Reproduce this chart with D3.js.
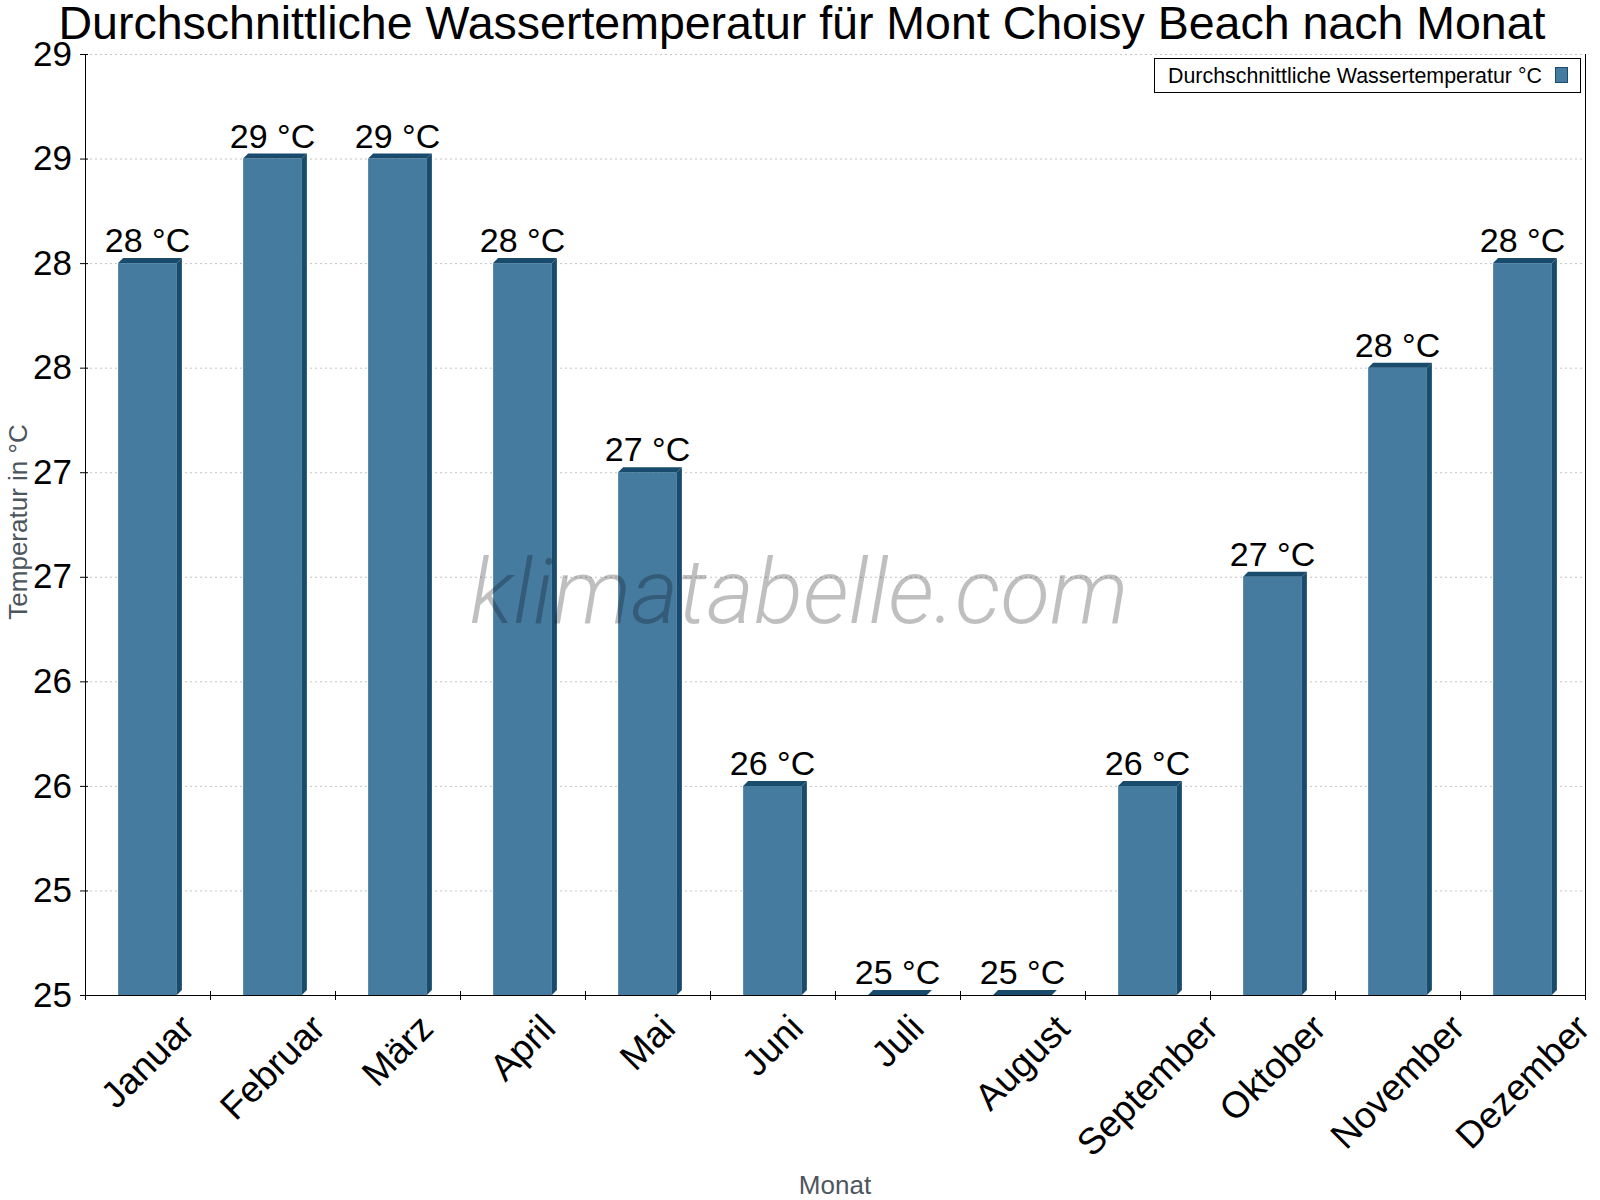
<!DOCTYPE html>
<html>
<head>
<meta charset="utf-8">
<style>
  body { margin: 0; background: #fff; }
  text { font-family: "Liberation Sans", Arial, sans-serif; }
</style>
</head>
<body>
<div id="chart"></div>

<script src="https://d3js.org/d3.v7.min.js"></script>

<script>

// data
let months = ["Januar", "Februar", "März", "April", "Mai", "Juni", "Juli",
              "August", "September", "Oktober", "November", "Dezember"];
let waterTemp = [28.5, 29, 29, 28.5, 27.5, 26, 25, 25, 26, 27, 28, 28.5];
let valueLabels = ["28 °C", "29 °C", "29 °C", "28 °C", "27 °C", "26 °C",
                   "25 °C", "25 °C", "26 °C", "27 °C", "28 °C", "28 °C"];
let yTickValues = [25, 25.5, 26, 26.5, 27, 27.5, 28, 28.5, 29, 29.5];
let yTickLabels = ["25", "25", "26", "26", "27", "27", "28", "28", "29", "29"];

let titleText = "Durchschnittliche Wassertemperatur für Mont Choisy Beach nach Monat";
let legendText = "Durchschnittliche Wassertemperatur °C";

let width = 1600, height = 1200;
let margin = {top: 54, right: 15, bottom: 205, left: 85};
let plot_w = width - margin.left - margin.right,
    plot_h = height - margin.top - margin.bottom;

let frontColor = "#467ba0",
    darkColor = "#194b6d",
    depth = 5;

let svg = d3.select("#chart")
  .append("svg")
    .attr("width", width)
    .attr("height", height);

// title
svg.append("text")
    .attr("x", 802)
    .attr("y", 39)
    .attr("text-anchor", "middle")
    .attr("font-size", 46.5)
    .attr("fill", "#000")
    .text(titleText);

let g = svg.append("g")
    .attr("transform", "translate(" + margin.left + "," + margin.top + ")");

// scales
let x = d3.scaleBand()
    .domain(months)
    .range([0, plot_w])
    .paddingInner(0.53)
    .paddingOuter(0.265);

let y = d3.scaleLinear()
    .domain([25, 29.5])
    .range([plot_h, 0]);

// grid lines
g.append("g")
  .selectAll("line")
  .data(yTickValues.slice(1))
  .enter()
  .append("line")
    .attr("x1", 0)
    .attr("x2", plot_w)
    .attr("y1", d => y(d) + 0.5)
    .attr("y2", d => y(d) + 0.5)
    .attr("stroke", "#c4c4c4")
    .attr("stroke-width", 1)
    .attr("stroke-dasharray", "2,3");

// watermark
svg.append("text")
    .attr("x", 799)
    .attr("y", 623)
    .attr("text-anchor", "middle")
    .attr("font-size", 91)
    .attr("font-style", "italic")
    .attr("font-weight", 300)
    .style("font-family", "Roboto, 'Liberation Sans', sans-serif")
    .attr("fill", "rgba(0,0,0,0.25)")
    .text("klimatabelle.com");

// 3d bars
let bars = g.append("g")
  .selectAll("g.bar")
  .data(months.map((m, i) => ({m: m, v: waterTemp[i], label: valueLabels[i]})))
  .enter()
  .append("g")
    .attr("class", "bar");

bars.append("rect")
    .attr("x", d => x(d.m))
    .attr("y", d => y(d.v))
    .attr("width", x.bandwidth())
    .attr("height", d => y(25) - y(d.v))
    .attr("fill", frontColor);

bars.append("polygon")
    .attr("points", d => {
      let x0 = x(d.m), x1 = x0 + x.bandwidth(), yt = y(d.v);
      return [[x0, yt], [x0 + depth, yt - depth], [x1 + depth, yt - depth], [x1, yt]].join(" ");
    })
    .attr("fill", darkColor);

bars.append("polygon")
    .attr("points", d => {
      let x1 = x(d.m) + x.bandwidth(), yt = y(d.v), yb = y(25);
      return [[x1, yt], [x1 + depth, yt - depth], [x1 + depth, yb - depth], [x1, yb]].join(" ");
    })
    .attr("fill", darkColor);

bars.append("text")
    .attr("x", d => x(d.m) + x.bandwidth() / 2)
    .attr("y", d => y(d.v) - depth - 6)
    .attr("text-anchor", "middle")
    .attr("font-size", 34)
    .attr("fill", "#000")
    .text(d => d.label);

// y axis
let yAxis = g.append("g")
    .call(d3.axisLeft(y)
      .tickValues(yTickValues)
      .tickFormat((d, i) => yTickLabels[i])
      .tickSizeInner(5)
      .tickSizeOuter(0)
      .tickPadding(8));
yAxis.select(".domain").attr("stroke", "#000");
yAxis.selectAll(".tick line").attr("stroke", "#000").attr("x2", 3).attr("x1", -5);
yAxis.selectAll(".tick text")
    .attr("font-size", 35)
    .attr("font-family", "'Liberation Sans', Arial, sans-serif")
    .attr("fill", "#000");

// right border line
g.append("line")
    .attr("x1", plot_w + 0.5)
    .attr("x2", plot_w + 0.5)
    .attr("y1", 0)
    .attr("y2", plot_h)
    .attr("stroke", "#000");

// x axis line and ticks at band boundaries
let xAxis = g.append("g")
    .attr("transform", "translate(0," + plot_h + ")");
xAxis.append("line")
    .attr("x1", 0)
    .attr("x2", plot_w)
    .attr("y1", 0.5)
    .attr("y2", 0.5)
    .attr("stroke", "#000");
xAxis.selectAll("line.tick")
  .data(d3.range(months.length + 1))
  .enter()
  .append("line")
    .attr("class", "tick")
    .attr("x1", i => Math.round(i * x.step()) + 0.5)
    .attr("x2", i => Math.round(i * x.step()) + 0.5)
    .attr("y1", -4)
    .attr("y2", 5)
    .attr("stroke", "#000");

// rotated month labels, top of each label just below the axis
let labelTop = 1007;
months.forEach(m => {
  let lg = svg.append("g");
  lg.append("text")
      .attr("text-anchor", "middle")
      .attr("dominant-baseline", "central")
      .attr("transform", "rotate(-45)")
      .attr("font-size", 37)
      .attr("fill", "#000")
      .text(m);
  let bb = lg.node().getBBox();
  let cx = margin.left + x(m) + x.bandwidth() / 2;
  lg.attr("transform", "translate(" + (cx - (bb.x + bb.width / 2)) + "," + (labelTop - bb.y) + ")");
});

// axis titles
svg.append("text")
    .attr("transform", "translate(27,522) rotate(-90)")
    .attr("text-anchor", "middle")
    .attr("font-size", 26)
    .attr("fill", "#4d555d")
    .text("Temperatur in °C");

svg.append("text")
    .attr("x", 835)
    .attr("y", 1194)
    .attr("text-anchor", "middle")
    .attr("font-size", 26)
    .attr("fill", "#4d555d")
    .text("Monat");

// legend
let legend = svg.append("g");
legend.append("rect")
    .attr("x", 1154.5)
    .attr("y", 58.5)
    .attr("width", 426)
    .attr("height", 34)
    .attr("fill", "#fff")
    .attr("stroke", "#000");
legend.append("text")
    .attr("x", 1168)
    .attr("y", 83)
    .attr("font-size", 21.4)
    .attr("fill", "#000")
    .text(legendText);
legend.append("rect")
    .attr("x", 1555.5)
    .attr("y", 67.5)
    .attr("width", 12)
    .attr("height", 15)
    .attr("fill", frontColor)
    .attr("stroke", darkColor);

</script>
</body>
</html>
